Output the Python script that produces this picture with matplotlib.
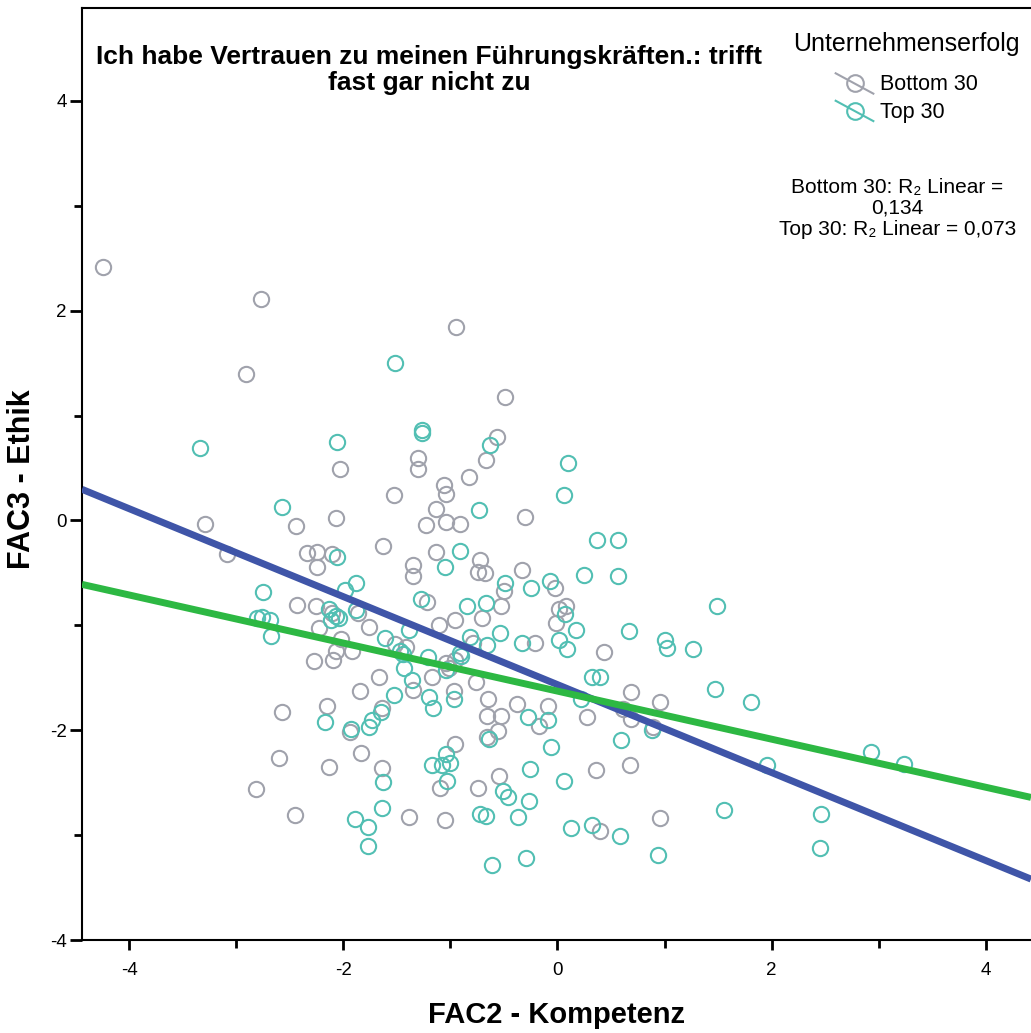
import matplotlib
matplotlib.use('Agg')
from matplotlib import pyplot as plt
from matplotlib.lines import Line2D
from matplotlib.legend_handler import HandlerBase

plt.rcParams['font.family'] = ['Liberation Sans', 'DejaVu Sans']
plt.rcParams['axes.unicode_minus'] = False

# Unternehmenserfolg: Bottom 30 (FAC2, FAC3)
bottom_x = [-4.25, -2.77, -2.91, -0.95, -0.49, -2.03, -1.30, -1.30, -0.57, -0.67,
            -0.83, -1.06, -1.04, -1.53, -3.29, -2.44, -2.07, -1.14, -1.23, -1.04,
            -0.91, -0.30, -1.63, -3.09, -2.34, -2.25, -2.11, -2.25, -1.14, -1.35,
            -1.35, -0.72, -0.74, -0.68, -0.33, -0.50, -0.02, -2.43, -2.26, -2.11,
            -1.86, -1.22, -0.96, -0.71, -0.53, -1.11, -2.23, -1.76, -2.02, -1.52,
            -1.42, -2.07, -1.92, -2.28, -2.10, -0.79, -0.96, -1.04, -1.01, -1.17,
            -1.67, -0.76, -1.35, -1.85, -0.97, -0.65, -2.15, -2.57, -1.94, -1.64,
            -0.66, -0.53, -0.96, -2.60, -2.14, -1.84, -1.64, -2.82, -2.45, -1.39,
            -1.05, 0.40, 0.96, -1.10, -0.74, -0.55, -0.56, -0.66, -0.38, -0.09,
            -0.17, -0.21, -0.01, 0.01, 0.08, 0.43, 0.69, 0.96, 0.61, 0.69,
            0.89, 0.28, 0.68, 0.36]
bottom_y = [2.42, 2.11, 1.40, 1.84, 1.18, 0.49, 0.60, 0.49, 0.80, 0.58,
            0.41, 0.34, 0.25, 0.24, -0.03, -0.05, 0.02, 0.11, -0.04, -0.01,
            -0.03, 0.03, -0.24, -0.32, -0.31, -0.30, -0.32, -0.44, -0.30, -0.42,
            -0.53, -0.38, -0.49, -0.50, -0.47, -0.67, -0.64, -0.81, -0.82, -0.88,
            -0.88, -0.78, -0.95, -0.93, -0.82, -1.00, -1.03, -1.02, -1.13, -1.18,
            -1.21, -1.24, -1.24, -1.34, -1.33, -1.17, -1.33, -1.36, -1.41, -1.49,
            -1.49, -1.54, -1.62, -1.63, -1.63, -1.70, -1.77, -1.83, -2.02, -1.79,
            -1.86, -1.86, -2.13, -2.26, -2.35, -2.22, -2.36, -2.56, -2.81, -2.83,
            -2.86, -2.96, -2.84, -2.55, -2.55, -2.44, -2.01, -2.06, -1.75, -1.77,
            -1.96, -1.17, -0.98, -0.84, -0.82, -1.25, -1.64, -1.73, -1.80, -1.89,
            -1.97, -1.87, -2.33, -2.38]

# Unternehmenserfolg: Top 30 (FAC2, FAC3)
top_x = [-3.34, -1.52, -2.06, -1.27, -1.27, -0.63, 0.10, 0.06, -2.57, -0.73,
         -2.06, -0.91, -1.05, -0.49, -0.25, -0.07, 0.25, 0.37, 0.57, 0.57,
         1.49, -2.75, -1.99, -1.88, -2.14, -2.07, -2.04, -2.12, -1.88, -1.28,
         -0.85, -0.67, 0.07, -2.81, -2.76, -2.69, -2.68, -1.39, -1.61, -0.82,
         -0.66, -0.54, -0.33, 0.01, 0.09, 0.17, 0.67, 1.00, 1.02, 1.27,
         -1.47, -1.44, -0.91, -0.90, -1.21, -1.04, -1.43, -1.36, -1.20, -1.16,
         -1.53, -0.97, -2.17, -1.93, -1.76, -1.73, -1.65, -0.64, -1.63, -1.64,
         -1.89, -1.77, -1.77, -1.17, -1.08, -1.04, -1.00, -1.03, -0.72, -0.67,
         -0.61, -0.37, -0.29, -0.51, -0.46, -0.27, -0.26, 0.06, -0.06, -0.28,
         -0.09, 0.22, 0.32, 0.40, 0.59, 0.88, 0.13, 0.32, 0.58, 0.94,
         1.56, 1.47, 1.81, 1.96, 2.93, 3.24, 2.46, 2.45]
top_y = [0.69, 1.50, 0.75, 0.86, 0.83, 0.72, 0.55, 0.24, 0.13, 0.10,
         -0.35, -0.29, -0.44, -0.60, -0.64, -0.58, -0.52, -0.19, -0.19, -0.53,
         -0.82, -0.68, -0.66, -0.60, -0.84, -0.91, -0.93, -0.95, -0.85, -0.75,
         -0.82, -0.79, -0.89, -0.93, -0.92, -0.95, -1.10, -1.04, -1.12, -1.11,
         -1.19, -1.07, -1.17, -1.14, -1.23, -1.04, -1.05, -1.14, -1.22, -1.23,
         -1.24, -1.27, -1.26, -1.29, -1.30, -1.43, -1.41, -1.52, -1.68, -1.79,
         -1.66, -1.70, -1.92, -1.99, -1.97, -1.90, -1.83, -2.08, -2.49, -2.74,
         -2.85, -2.92, -3.10, -2.33, -2.33, -2.23, -2.31, -2.48, -2.80, -2.82,
         -3.28, -2.83, -3.22, -2.58, -2.64, -2.67, -2.37, -2.48, -2.16, -1.87,
         -1.90, -1.70, -1.49, -1.49, -2.09, -2.00, -2.93, -2.90, -3.01, -3.19,
         -2.76, -1.61, -1.73, -2.33, -2.21, -2.32, -2.80, -3.12]

groups = ['Bottom 30', 'Top 30']
marker_colors = ['#A0A2AC', '#52BFB3']
# lineare Anpassung (Steigung, Achsenabschnitt)
fit_slope = [-0.419, -0.229]
fit_intercept = [-1.565, -1.627]
fit_colors = ['#3F55A8', '#2DB843']
r2_values = ['0,134', '0,073']


class DiagHandler(HandlerBase):
    # Legendensymbol: Kreis mit schraeger Linie
    def create_artists(self, legend, orig_handle, xdescent, ydescent,
                       width, height, fontsize, trans):
        c = orig_handle.get_markeredgecolor()
        cy = height * 0.45
        dy = width * 0.27
        ln = Line2D([0, width], [cy + dy, cy - dy], color=c, lw=1.5,
                    transform=trans)
        mk = Line2D([width * 0.5], [cy], marker='o', markersize=12,
                    markerfacecolor='none', markeredgecolor=c, markeredgewidth=1.5,
                    linestyle='none', transform=trans)
        return [ln, mk]


fig = plt.figure(figsize=(10.31, 10.33), dpi=100)
ax = fig.add_axes([0.0795, 0.090, 0.9205, 0.9023])

xmin, xmax = -4.444, 4.425
ax.set_xlim(xmin, xmax)
ax.set_ylim(-3.99, 4.886)

ax.plot(bottom_x, bottom_y, 'o', markersize=11, markerfacecolor='none',
        markeredgecolor=marker_colors[0], markeredgewidth=1.5, zorder=2)
ax.plot(top_x, top_y, 'o', markersize=11, markerfacecolor='none',
        markeredgecolor=marker_colors[1], markeredgewidth=1.5, zorder=2)

for k in range(2):
    ax.plot([xmin, xmax],
            [fit_intercept[k] + fit_slope[k] * xmin, fit_intercept[k] + fit_slope[k] * xmax],
            color=fit_colors[k], lw=5, solid_capstyle='butt', zorder=3)

for s in ['left', 'bottom', 'top']:
    ax.spines[s].set_linewidth(1.5)
    ax.spines[s].set_color('black')
ax.spines['right'].set_visible(False)

ax.set_xticks([-4, -2, 0, 2, 4])
ax.set_xticks([-3, -1, 1, 3], minor=True)
ax.set_yticks([-4, -2, 0, 2, 4])
ax.set_yticks([-3, -1, 1, 3], minor=True)
ax.tick_params(which='major', direction='out', length=7, width=2, labelsize=13.5, pad=9)
ax.tick_params(which='minor', direction='out', length=6, width=2)
ax.tick_params(axis='y', which='major', length=9, pad=2)

fig.text(557 / 1031, 1 - 1015 / 1033, 'FAC2 - Kompetenz', fontsize=21,
         fontweight='bold', ha='center', va='center')
fig.text(22 / 1031, 1 - 479 / 1033, 'FAC3 - Ethik', fontsize=22,
         fontweight='bold', ha='center', va='center', rotation=90)

ax.text(0.366, 0.933, 'Ich habe Vertrauen zu meinen Führungskräften.: trifft\nfast gar nicht zu',
        transform=ax.transAxes, ha='center', va='center', fontsize=19,
        fontweight='bold', linespacing=1.1)

handles = [Line2D([], [], marker='o', markerfacecolor='none',
                  markeredgecolor=marker_colors[k]) for k in range(2)]
leg = ax.legend(handles, groups, title='Unternehmenserfolg', loc='upper center',
                bbox_to_anchor=(0.869, 0.974), frameon=False, fontsize=15.5,
                title_fontsize=18, handler_map={Line2D: DiagHandler()},
                handlelength=1.75, handletextpad=0.3, labelspacing=0.3,
                borderaxespad=0.0, borderpad=0.0)
leg._legend_box.align = 'center'
leg._legend_box.sep = 13

ax.text(0.859, 0.785,
        'Bottom 30: R\u2082 Linear =\n' + r2_values[0] + '\nTop 30: R\u2082 Linear = ' + r2_values[1],
        transform=ax.transAxes, ha='center', va='center', fontsize=15,
        linespacing=1.12)

plt.savefig('out.png', dpi=100)
